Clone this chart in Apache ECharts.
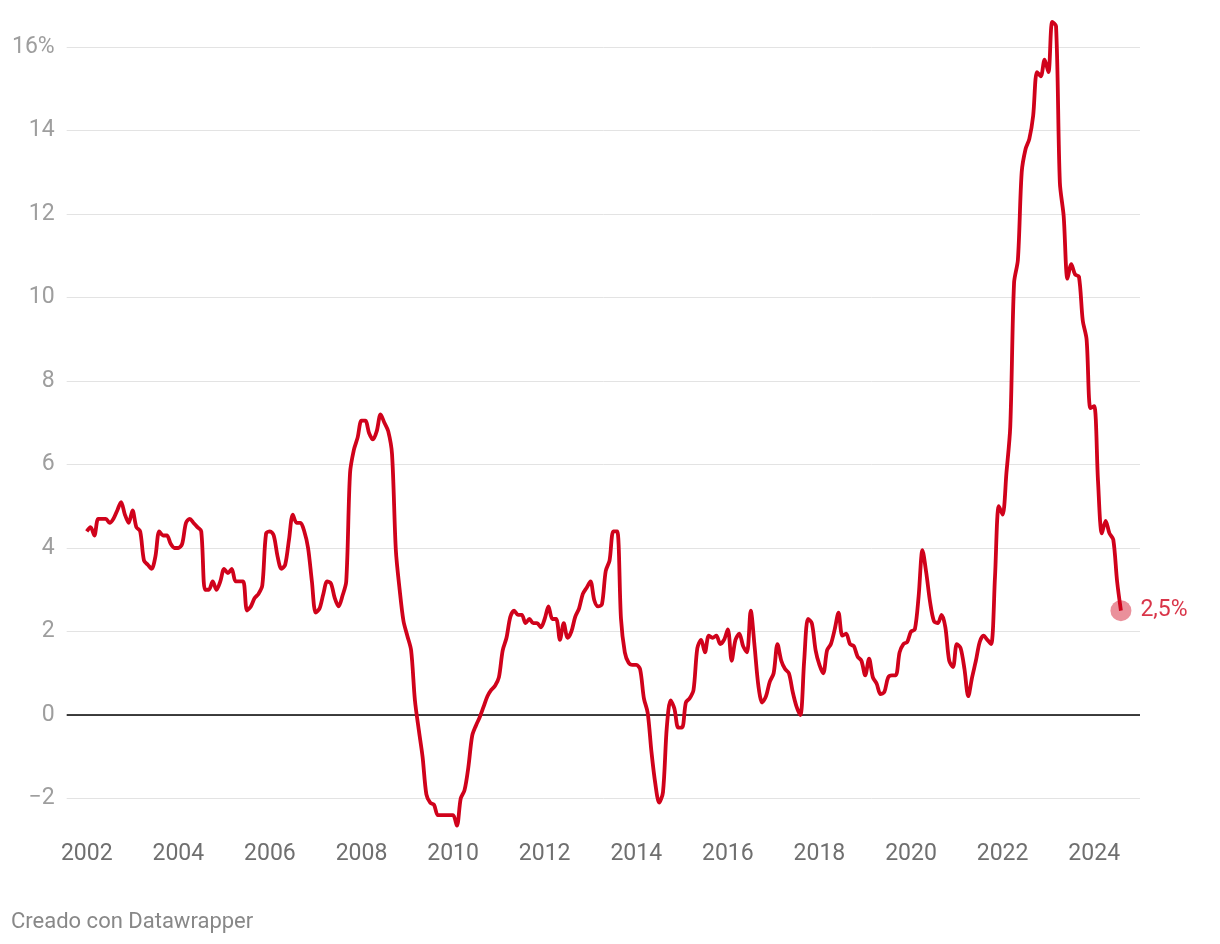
<!DOCTYPE html>
<html>
<head>
<meta charset="utf-8">
<script src="https://cdn.jsdelivr.net/npm/echarts@6/dist/echarts.min.js"></script>
<style>
  html, body { margin: 0; padding: 0; background: #fff; }
  #chart { width: 1220px; height: 944px; }
</style>
</head>
<body>
<div id="chart"></div>
<script>
// Monthly series, January 2002 to August 2024 (annual % change)
const startYear = 2002;
const values = [
  4.4, 4.5, 4.3, 4.7, 4.7, 4.7, 4.6, 4.7, 4.9, 5.1, 4.8, 4.6,
  4.9, 4.5, 4.4, 3.7, 3.6, 3.5, 3.8, 4.4, 4.3, 4.3, 4.1, 4.0,
  4.0, 4.1, 4.6, 4.7, 4.6, 4.5, 4.4, 3.0, 3.0, 3.2, 3.0, 3.2,
  3.5, 3.4, 3.5, 3.2, 3.2, 3.2, 2.5, 2.6, 2.8, 2.9, 3.1, 4.35,
  4.4, 4.3, 3.8, 3.5, 3.6, 4.2, 4.8, 4.6, 4.6, 4.4, 4.0, 3.2,
  2.45, 2.55, 2.9, 3.2, 3.15, 2.8, 2.6, 2.85, 3.2, 5.8, 6.35, 6.65,
  7.05, 7.05, 6.75, 6.6, 6.8, 7.2, 7.0, 6.8, 6.25, 3.95, 3.0, 2.25,
  1.9, 1.55, 0.35, -0.35, -1.0, -1.9, -2.1, -2.15, -2.4, -2.4, -2.4, -2.4,
  -2.4, -2.65, -2.0, -1.8, -1.25, -0.5, -0.25, -0.05, 0.2, 0.45, 0.6, 0.7,
  0.9, 1.55, 1.85, 2.35, 2.5, 2.4, 2.4, 2.2, 2.3, 2.2, 2.2, 2.1,
  2.3, 2.6, 2.3, 2.3, 1.8, 2.2, 1.85, 2.0, 2.35, 2.55, 2.9, 3.05,
  3.2, 2.75, 2.6, 2.65, 3.45, 3.7, 4.4, 4.4, 2.3, 1.5, 1.25, 1.2,
  1.2, 1.1, 0.4, 0.05, -0.9, -1.65, -2.1, -1.85, -0.3, 0.35, 0.15, -0.3,
  -0.3, 0.3, 0.4, 0.6, 1.6, 1.8, 1.5, 1.9, 1.85, 1.9, 1.7, 1.8,
  2.05, 1.3, 1.8, 1.95, 1.65, 1.5, 2.5, 1.65, 0.7, 0.3, 0.45, 0.8,
  1.0, 1.7, 1.3, 1.1, 1.0, 0.55, 0.2, 0.0, 1.3, 2.3, 2.2, 1.55,
  1.2, 1.0, 1.55, 1.7, 2.05, 2.45, 1.9, 1.95, 1.7, 1.65, 1.4, 1.3,
  0.95, 1.35, 0.9, 0.75, 0.5, 0.55, 0.9, 0.95, 0.95, 1.5, 1.7, 1.75,
  2.0, 2.05, 2.85, 3.95, 3.4, 2.7, 2.25, 2.2, 2.4, 2.1, 1.3, 1.15,
  1.7, 1.6, 1.1, 0.45, 0.9, 1.3, 1.75, 1.9, 1.8, 1.7, 3.3, 5.0,
  4.8, 5.8, 6.9, 10.35, 10.9, 13.0, 13.55, 13.8, 14.35, 15.4, 15.3, 15.7,
  15.4, 16.6, 16.5, 12.75, 11.95, 10.45, 10.8, 10.55, 10.5, 9.45, 9.0, 7.35,
  7.4, 5.6, 4.35, 4.65, 4.35, 4.2, 3.2, 2.5
];
const yTicks = [-2, 0, 2, 4, 6, 8, 10, 12, 14, 16];
const xTickYears = [2002, 2004, 2006, 2008, 2010, 2012, 2014, 2016, 2018, 2020, 2022, 2024];
const sourceText = 'Creado con Datawrapper';

const lineData = values.map((v, i) => [startYear + i / 12, v]);
const lastPoint = lineData[lineData.length - 1];

const RED = '#d0021b';
const chart = echarts.init(document.getElementById('chart'), null, { renderer: 'canvas' });

chart.setOption({
  animation: false,
  backgroundColor: '#ffffff',
  textStyle: { fontFamily: 'Roboto, sans-serif' },
  grid: { left: 66.7, right: 80, top: 47, bottom: 145.5, containLabel: false },
  xAxis: {
    type: 'value',
    min: 2001.5625,
    max: 2025,
    interval: 0.0625,
    axisLine: { show: false },
    axisTick: { show: false },
    splitLine: { show: false },
    axisLabel: {
      margin: 44,
      fontSize: 23,
      color: '#6f6f6f',
      showMinLabel: true,
      showMaxLabel: true,
      formatter: function (v) {
        const r = Math.round(v);
        if (Math.abs(v - r) < 1e-6 && xTickYears.indexOf(r) >= 0) return String(r);
        return '';
      }
    }
  },
  yAxis: {
    type: 'value',
    min: yTicks[0],
    max: yTicks[yTicks.length - 1],
    interval: 2,
    axisLine: { show: false },
    axisTick: { show: false },
    splitLine: { show: true, lineStyle: { color: '#e3e3e3', width: 1 } },
    axisLabel: {
      margin: 12,
      fontSize: 23,
      color: '#9e9e9e',
      formatter: function (v) {
        if (v === yTicks[yTicks.length - 1]) return v + '%';
        if (v < 0) return '\u2212' + Math.abs(v);
        return String(v);
      }
    }
  },
  series: [
    {
      type: 'line',
      data: lineData,
      showSymbol: false,
      symbol: 'none',
      smooth: 0.3,
      clip: false,
      lineStyle: { color: RED, width: 3.8 },
      z: 3,
      markLine: {
        silent: true,
        symbol: 'none',
        label: { show: false },
        lineStyle: { color: '#000', width: 1.5, type: 'solid' },
        data: [{ yAxis: 0 }],
        z: 2
      }
    },
    {
      type: 'scatter',
      data: [lastPoint],
      symbolSize: 21,
      clip: false,
      itemStyle: { color: 'rgba(208,2,27,0.55)' },
      label: {
        show: true,
        position: 'right',
        distance: 9,
        fontSize: 23,
        color: RED,
        formatter: function (p) { return p.value[1].toFixed(1).replace('.', ',') + '%'; }
      },
      z: 4
    }
  ],
  graphic: [
    {
      type: 'text',
      left: 11,
      top: 911,
      style: { text: sourceText, fontSize: 22, fill: '#888888', fontFamily: 'Roboto, sans-serif' }
    }
  ]
});
</script>
</body>
</html>
